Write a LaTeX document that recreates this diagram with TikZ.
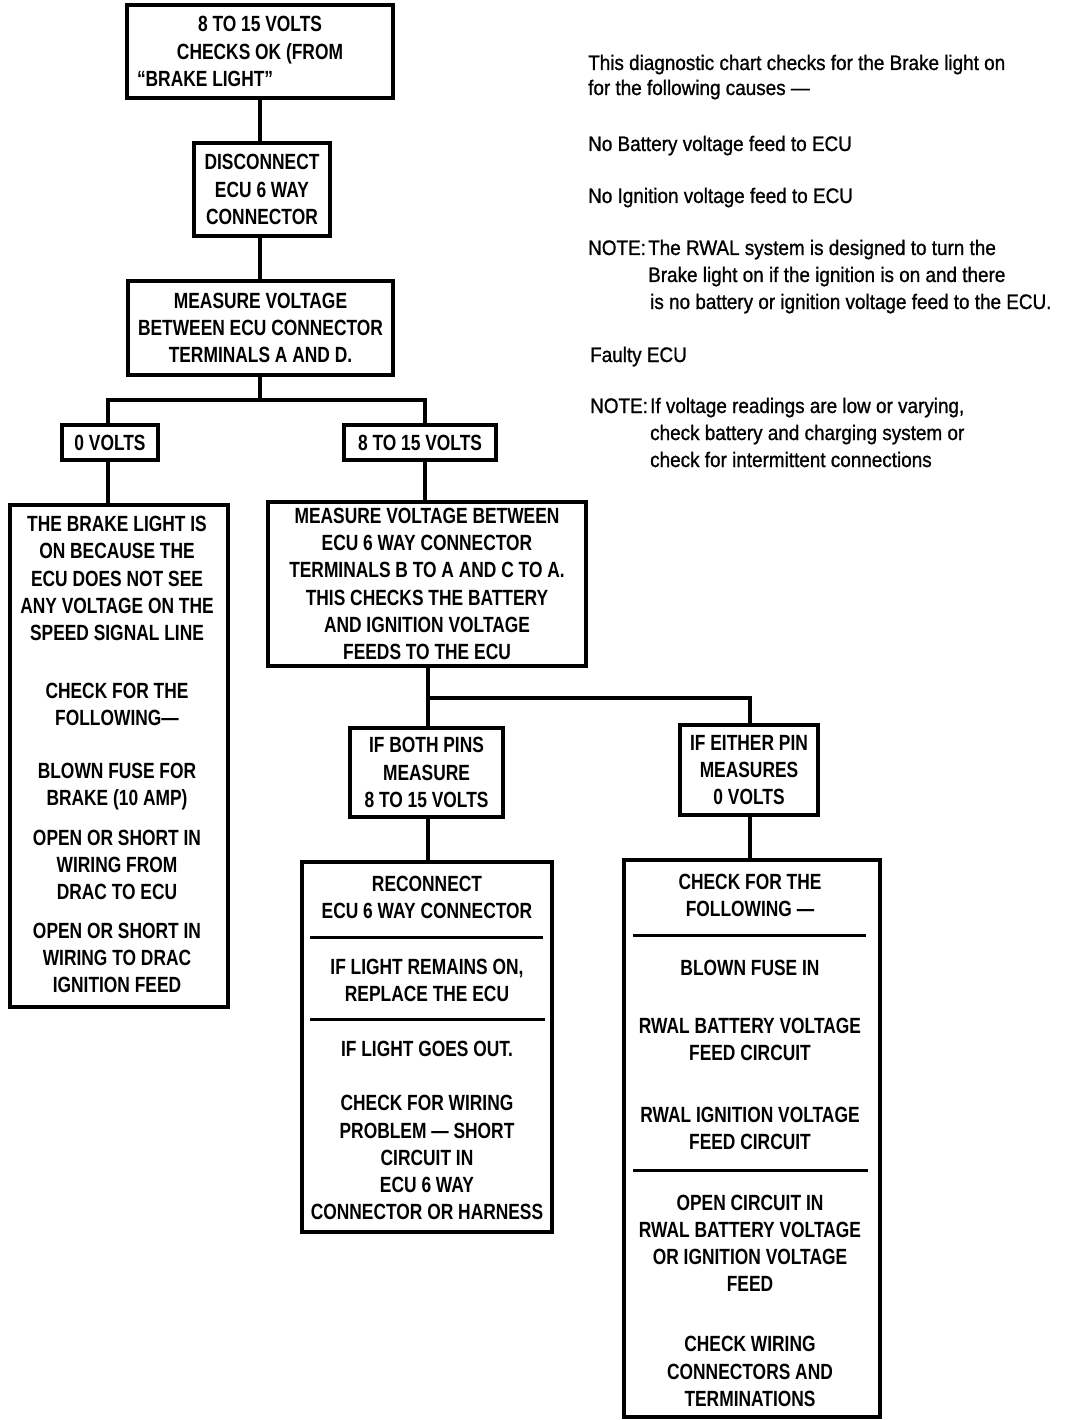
\documentclass[tikz,border=0pt]{standalone}
\usepackage{fontspec}
\setmainfont{Liberation Sans}
\newfontfamily\boxfont{Liberation Sans Bold}[FakeStretch=0.79]
\newfontfamily\notefont{Liberation Sans}[FakeStretch=0.9, FakeBold=1]
\begin{document}
\begin{tikzpicture}[x=1pt,y=-1pt,
  conn/.style={line width=3.8pt},
  boxfmt/.style={font=\boxfont\fontsize{22}{27.2}\selectfont},
  frame/.style={draw, line width=3.3pt, inner sep=0pt, align=center, boxfmt},
  txt/.style={inner sep=0pt, align=center, boxfmt},
  divider/.style={line width=3pt},
  note/.style={anchor=base west, inner sep=0pt, font=\notefont\fontsize{21}{27}\selectfont}]
\useasboundingbox (0,0) rectangle (1072,1420);

% top chain
\node[frame, minimum width=266pt, minimum height=93pt] (b1) at (260,51.5)
  {8 TO 15 VOLTS\\CHECKS OK (FROM\\\makebox[246pt][l]{“BRAKE LIGHT”}};
\node[frame, minimum width=136pt, minimum height=93pt] (b2) at (262,189.5)
  {DISCONNECT\\ECU 6 WAY\\CONNECTOR};
\node[frame, minimum width=265pt, minimum height=94pt] (b3) at (260.5,328)
  {MEASURE VOLTAGE\\BETWEEN ECU CONNECTOR\\TERMINALS A AND D.};

\node[frame, minimum width=96pt, minimum height=35pt] (v0) at (110,442.5) {0 VOLTS};
\node[frame, minimum width=152pt, minimum height=35pt] (v15) at (420,442.5) {8 TO 15 VOLTS};

% left tall box
\node[frame, minimum width=218pt, minimum height=502pt] (b4) at (119,756) {};
\node[txt] (t41) at (117,578.5) {THE BRAKE LIGHT IS\\ON BECAUSE THE\\ECU DOES NOT SEE\\ANY VOLTAGE ON THE\\SPEED SIGNAL LINE};
\node[txt] (t42) at (117,704.5) {CHECK FOR THE\\FOLLOWING—};
\node[txt] (t43) at (117,786.5) {BLOWN FUSE FOR\\BRAKE (10 AMP)};
\node[txt] (t44) at (117,865) {OPEN OR SHORT IN\\WIRING FROM\\DRAC TO ECU};
\node[txt] (t45) at (117,958) {OPEN OR SHORT IN\\WIRING TO DRAC\\IGNITION FEED};

% middle box
\node[frame, minimum width=318pt, minimum height=164pt] (b5) at (427,584)
  {MEASURE VOLTAGE BETWEEN\\ECU 6 WAY CONNECTOR\\TERMINALS B TO A AND C TO A.\\THIS CHECKS THE BATTERY\\AND IGNITION VOLTAGE\\FEEDS TO THE ECU};

\node[frame, minimum width=153pt, minimum height=89pt] (b6) at (426.5,772.5)
  {IF BOTH PINS\\MEASURE\\8 TO 15 VOLTS};
\node[frame, minimum width=138pt, minimum height=90pt] (b7) at (749,770)
  {IF EITHER PIN\\MEASURES\\0 VOLTS};

% box 8
\node[frame, minimum width=250pt, minimum height=370pt] (b8) at (427,1047) {};
\node[txt] (t81) at (427,897.5) {RECONNECT\\ECU 6 WAY CONNECTOR};
\draw[divider] (310,937) -- (543,937);
\node[txt] (t82) at (427,980.5) {IF LIGHT REMAINS ON,\\REPLACE THE ECU};
\draw[divider] (310,1019) -- (545,1019);
\node[txt] (t83) at (427,1130.5) {IF LIGHT GOES OUT.\\[27.2pt]CHECK FOR WIRING\\PROBLEM — SHORT\\CIRCUIT IN\\ECU 6 WAY\\CONNECTOR OR HARNESS};

% box 9
\node[frame, minimum width=256pt, minimum height=557pt] (b9) at (752,1138.5) {};
\node[txt] (t91) at (750,895.5) {CHECK FOR THE\\FOLLOWING —};
\draw[divider] (633,935) -- (866,935);
\node[txt] (t92) at (750,968) {BLOWN FUSE IN};
\node[txt] (t93) at (750,1039.5) {RWAL BATTERY VOLTAGE\\FEED CIRCUIT};
\node[txt] (t94) at (750,1128.5) {RWAL IGNITION VOLTAGE\\FEED CIRCUIT};
\draw[divider] (633,1170) -- (868,1170);
\node[txt] (t95) at (750,1243.5) {OPEN CIRCUIT IN\\RWAL BATTERY VOLTAGE\\OR IGNITION VOLTAGE\\FEED};
\node[txt] (t96) at (750,1371.5) {CHECK WIRING\\CONNECTORS AND\\TERMINATIONS};

% connectors
\coordinate (jl) at (108,400);
\coordinate (jr) at (425,400);
\coordinate (k1) at (428,698);
\coordinate (k2) at (750,698);
\draw[conn] (b1.south) -- (b1.south |- b2.north);
\draw[conn] (b1.south |- b2.south) -- (b1.south |- b3.north);
\draw[conn] (b1.south |- b3.south) -- (b1.south |- jl);
\draw[conn, line cap=rect] (jl) -- (jr);
\draw[conn] (jl) -- (jl |- v0.north);
\draw[conn] (jr) -- (jr |- v15.north);
\draw[conn] (jl |- v0.south) -- (jl |- b4.north);
\draw[conn] (jr |- v15.south) -- (jr |- b5.north);
\draw[conn] (k1 |- b5.south) -- (k1);
\draw[conn, line cap=rect] (k1) -- (k2);
\draw[conn] (k1) -- (k1 |- b6.north);
\draw[conn] (k2) -- (k2 |- b7.north);
\draw[conn] (k1 |- b6.south) -- (k1 |- b8.north);
\draw[conn] (k2 |- b7.south) -- (k2 |- b9.north);

% notes
\node[note] (n1) at (588,70) {This diagnostic chart checks for the Brake light on};
\node[note] (n2) at (588,95) {for the following causes —};
\node[note] (n3) at (588,151) {No Battery voltage feed to ECU};
\node[note] (n4) at (588,203) {No Ignition voltage feed to ECU};
\node[note] (n5) at (588,255) {NOTE:};
\node[note] (n5a) at (648,255) {The RWAL system is designed to turn the};
\node[note] (n5b) at (648,282) {Brake light on if the ignition is on and there};
\node[note] (n5c) at (650,309) {is no battery or ignition voltage feed to the ECU.};
\node[note] (n6) at (590,362) {Faulty ECU};
\node[note] (n7) at (590,413) {NOTE:};
\node[note] (n7a) at (650,413) {If voltage readings are low or varying,};
\node[note] (n7b) at (650,440) {check battery and charging system or};
\node[note] (n7c) at (650,467) {check for intermittent connections};
\end{tikzpicture}
\end{document}
